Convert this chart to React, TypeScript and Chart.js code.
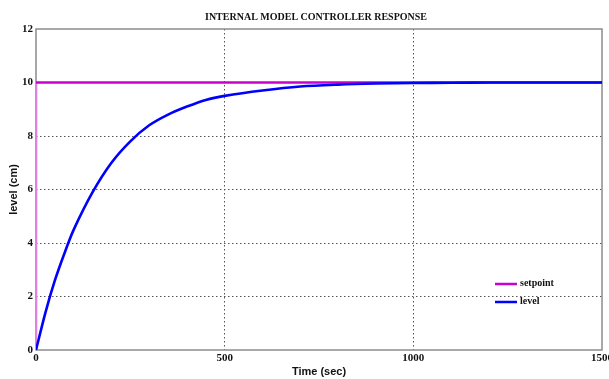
import React, { useEffect, useRef } from "react";
import { Chart, registerables } from "chart.js";

Chart.register(...registerables);

const chartTitle = "INTERNAL MODEL CONTROLLER RESPONSE";
const xTitle = "Time (sec)";
const yTitle = "level (cm)";

const setpointTime = [0, 0, 1500];
const setpointValue = [0, 10, 10];

const levelTime = [0, 25, 50, 75, 100, 150, 200, 250, 300, 350, 400, 450, 500, 600, 700, 800, 900, 1000, 1100, 1200, 1300, 1400, 1500];
const levelValue = [0, 1.4, 2.6, 3.6, 4.5, 5.9, 7.0, 7.8, 8.4, 8.8, 9.1, 9.35, 9.5, 9.7, 9.85, 9.92, 9.96, 9.98, 9.99, 10, 10, 10, 10];

const xTicks = [0, 500, 1000, 1500];
const yTicks = [0, 2, 4, 6, 8, 10, 12];

const SETPOINT_COLOR = "#cc00cc";
const LEVEL_COLOR = "#0000ff";

const frame = {
  id: "frame",
  beforeDatasetsDraw(chart: any) {
    const { ctx, chartArea: a } = chart;
    ctx.save();
    ctx.strokeStyle = "#8c8c8c";
    ctx.lineWidth = 1.5;
    ctx.strokeRect(a.left, a.top, a.right - a.left, a.bottom - a.top);
    ctx.restore();
  },
  afterDraw(chart: any) {
    const { ctx, chartArea: a } = chart;
    ctx.save();
    ctx.fillStyle = "#111";
    ctx.font = "bold 10px 'Liberation Serif'";
    ctx.textAlign = "center";
    ctx.textBaseline = "middle";
    ctx.fillText(chartTitle, (a.left + a.right) / 2 - 3, 17);
    const items = chart.data.datasets.map((d: any) => ({ label: d.label, color: d.legendColor }));
    const order = ["setpoint", "level"];
    const x0 = 495;
    const x1 = 517;
    const ys = [284, 302];
    ctx.textAlign = "left";
    ctx.font = "bold 10px 'Liberation Serif'";
    order.forEach((lab, i) => {
      const it = items.find((k: any) => k.label === lab);
      ctx.strokeStyle = it.color;
      ctx.lineWidth = 2.5;
      ctx.beginPath();
      ctx.moveTo(x0, ys[i]);
      ctx.lineTo(x1, ys[i]);
      ctx.stroke();
      ctx.fillStyle = "#111";
      ctx.fillText(it.label, x1 + 3, ys[i] - 1);
    });
    ctx.restore();
  },
};

export default function App() {
  const ref = useRef<HTMLCanvasElement>(null);
  useEffect(() => {
    const canvas = ref.current!;
    const chart = new Chart(canvas, {
      type: "line",
      data: {
        datasets: [
          {
            label: "level",
            legendColor: LEVEL_COLOR,
            data: levelTime.map((t, i) => ({ x: t, y: levelValue[i] })),
            borderColor: LEVEL_COLOR,
            borderWidth: 2.6,
            pointRadius: 0,
            tension: 0.3,
            order: 0,
          } as any,
          {
            label: "setpoint",
            legendColor: SETPOINT_COLOR,
            data: setpointTime.map((t, i) => ({ x: t, y: setpointValue[i] })),
            borderColor: SETPOINT_COLOR,
            borderWidth: 2.6,
            pointRadius: 0,
            tension: 0,
            order: 1,
            segment: {
              borderColor: (c: any) => (c.p0.parsed.x === c.p1.parsed.x ? "#e27fe2" : undefined),
            },
          } as any,
        ],
      },
      options: {
        animation: false,
        responsive: false,
        layout: { padding: { top: 29, right: 7, left: 0, bottom: 0 } },
        plugins: { legend: { display: false }, title: { display: false }, tooltip: { enabled: false } },
        scales: {
          x: {
            type: "linear",
            min: 0,
            max: 1500,
            afterBuildTicks: (s: any) => {
              s.ticks = xTicks.map((v) => ({ value: v }));
            },
            afterFit: (s: any) => {
              s.height = 29;
              s.paddingLeft = 0;
              s.paddingRight = 0;
            },
            border: { display: false, dash: [1.5, 2.5] },
            grid: {
              drawTicks: false,
              color: (c: any) => (c.tick && (c.tick.value === 0 || c.tick.value === 1500) ? "rgba(0,0,0,0)" : "#555"),
              lineWidth: 1,
            } as any,
            ticks: {
              color: "#111",
              font: { family: "'Liberation Serif'", weight: "bold", size: 11 },
              padding: 2,
              maxRotation: 0,
              autoSkip: false,
              callback: (v: any) => String(v),
            },
            title: {
              display: true,
              text: xTitle,
              color: "#111",
              font: { family: "'Liberation Sans'", weight: "bold", size: 11 },
              padding: { top: 0, bottom: 0 },
            },
          },
          y: {
            type: "linear",
            min: 0,
            max: 12,
            afterBuildTicks: (s: any) => {
              s.ticks = yTicks.map((v) => ({ value: v }));
            },
            afterFit: (s: any) => {
              s.width = 36;
            },
            border: { display: false, dash: [1.5, 2.5] },
            grid: {
              drawTicks: false,
              color: (c: any) => (c.tick && (c.tick.value === 0 || c.tick.value === 12) ? "rgba(0,0,0,0)" : "#555"),
              lineWidth: 1,
            } as any,
            ticks: {
              color: "#111",
              font: { family: "'Liberation Serif'", weight: "bold", size: 11 },
              padding: 3,
              autoSkip: false,
              callback: (v: any) => String(v),
            },
            title: {
              display: true,
              text: yTitle,
              color: "#111",
              font: { family: "'Liberation Sans'", weight: "bold", size: 11 },
              padding: { top: 7, bottom: 0 },
            },
          },
        },
      },
      plugins: [frame],
    });
    return () => chart.destroy();
  }, []);
  return (
    <div style={{ position: "fixed", left: 0, top: 0, width: 609, height: 379, background: "#fff" }}>
      <canvas ref={ref} width={609} height={379} style={{ width: 609, height: 379 }} />
    </div>
  );
}
